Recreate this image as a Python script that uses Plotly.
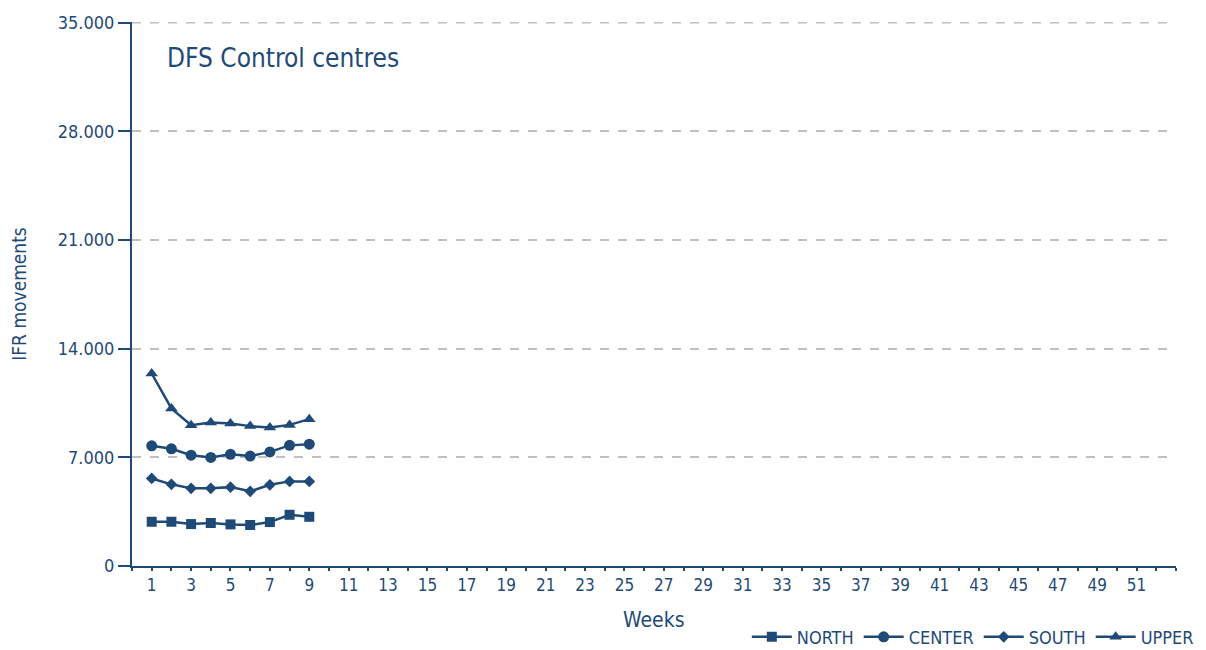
import plotly.graph_objects as go

weeks = [1, 2, 3, 4, 5, 6, 7, 8, 9]
north = [2850, 2850, 2700, 2770, 2680, 2640, 2830, 3300, 3170]
center = [7740, 7550, 7140, 6990, 7190, 7080, 7350, 7770, 7850]
south = [5640, 5260, 5000, 5000, 5080, 4810, 5230, 5450, 5450]
upper = [12400, 10150, 9070, 9250, 9180, 9010, 8920, 9090, 9460]

x_tickvals = list(range(1, 52, 2))
y_tickvals = [0, 7000, 14000, 21000, 28000, 35000]

NAVY = "#1f4a78"
GRID = "#c0c0c0"
FONT = "DejaVu Sans Condensed, Liberation Sans Narrow, sans-serif"

series = [
    ("NORTH", north, "square", 10),
    ("CENTER", center, "circle", 11),
    ("SOUTH", south, "diamond", 9),
    ("UPPER", upper, "triangle-up", 11),
]

fig = go.Figure()
for name, vals, sym, sz in series:
    fig.add_trace(go.Scatter(
        x=weeks, y=vals, name=name, mode="lines+markers",
        line=dict(color=NAVY, width=2.5),
        marker=dict(symbol=sym, size=sz, color=NAVY),
    ))

fig.update_layout(
    width=1198, height=642,
    paper_bgcolor="white", plot_bgcolor="white",
    margin=dict(l=124, r=30, t=14, b=84, autoexpand=False),
    separators=",.",
    font=dict(family=FONT, color=NAVY, size=18),
    showlegend=True,
    legend=dict(orientation="h", x=0.994, xanchor="right", xref="container",
                y=0.02, yanchor="middle", yref="container",
                font=dict(size=18, color=NAVY), itemwidth=40, traceorder="normal"),
    annotations=[
        dict(text="DFS Control centres", xref="paper", yref="paper",
             x=0.032, y=0.934, xanchor="left", yanchor="middle",
             showarrow=False, font=dict(size=26, color=NAVY)),
        dict(text="Weeks", xref="paper", yref="paper",
             x=0.5, y=-0.099, xanchor="center", yanchor="middle",
             showarrow=False, font=dict(size=21, color=NAVY)),
    ],
    shapes=[dict(type="line", xref="paper", yref="y", x0=0, x1=1,
                 y0=y_tickvals[-1], y1=y_tickvals[-1], layer="below",
                 line=dict(color=GRID, width=2, dash="dash"))],
)

fig.update_xaxes(
    range=[0, 53], tickmode="array", tickvals=x_tickvals, automargin=False,
    showgrid=False, zeroline=False,
    showline=True, linecolor=NAVY, linewidth=2,
    ticks="outside", ticklen=3, tickcolor=NAVY, tickwidth=2,
    minor=dict(dtick=1, tick0=0, ticks="outside", ticklen=3, tickcolor=NAVY, tickwidth=2),
    tickfont=dict(size=17, color=NAVY),
)
fig.update_yaxes(
    range=[0, 35040], tickmode="array", tickvals=y_tickvals, tickformat=",",
    automargin=False,
    showgrid=True, gridcolor=GRID, griddash="dash", gridwidth=2,
    zeroline=False,
    showline=True, linecolor=NAVY, linewidth=2,
    ticks="outside", ticklen=12, tickcolor=NAVY, tickwidth=2,
    tickfont=dict(size=18, color=NAVY),
    title=dict(text="IFR movements", font=dict(size=19, color=NAVY), standoff=27),
)

fig.write_html("out.html")
